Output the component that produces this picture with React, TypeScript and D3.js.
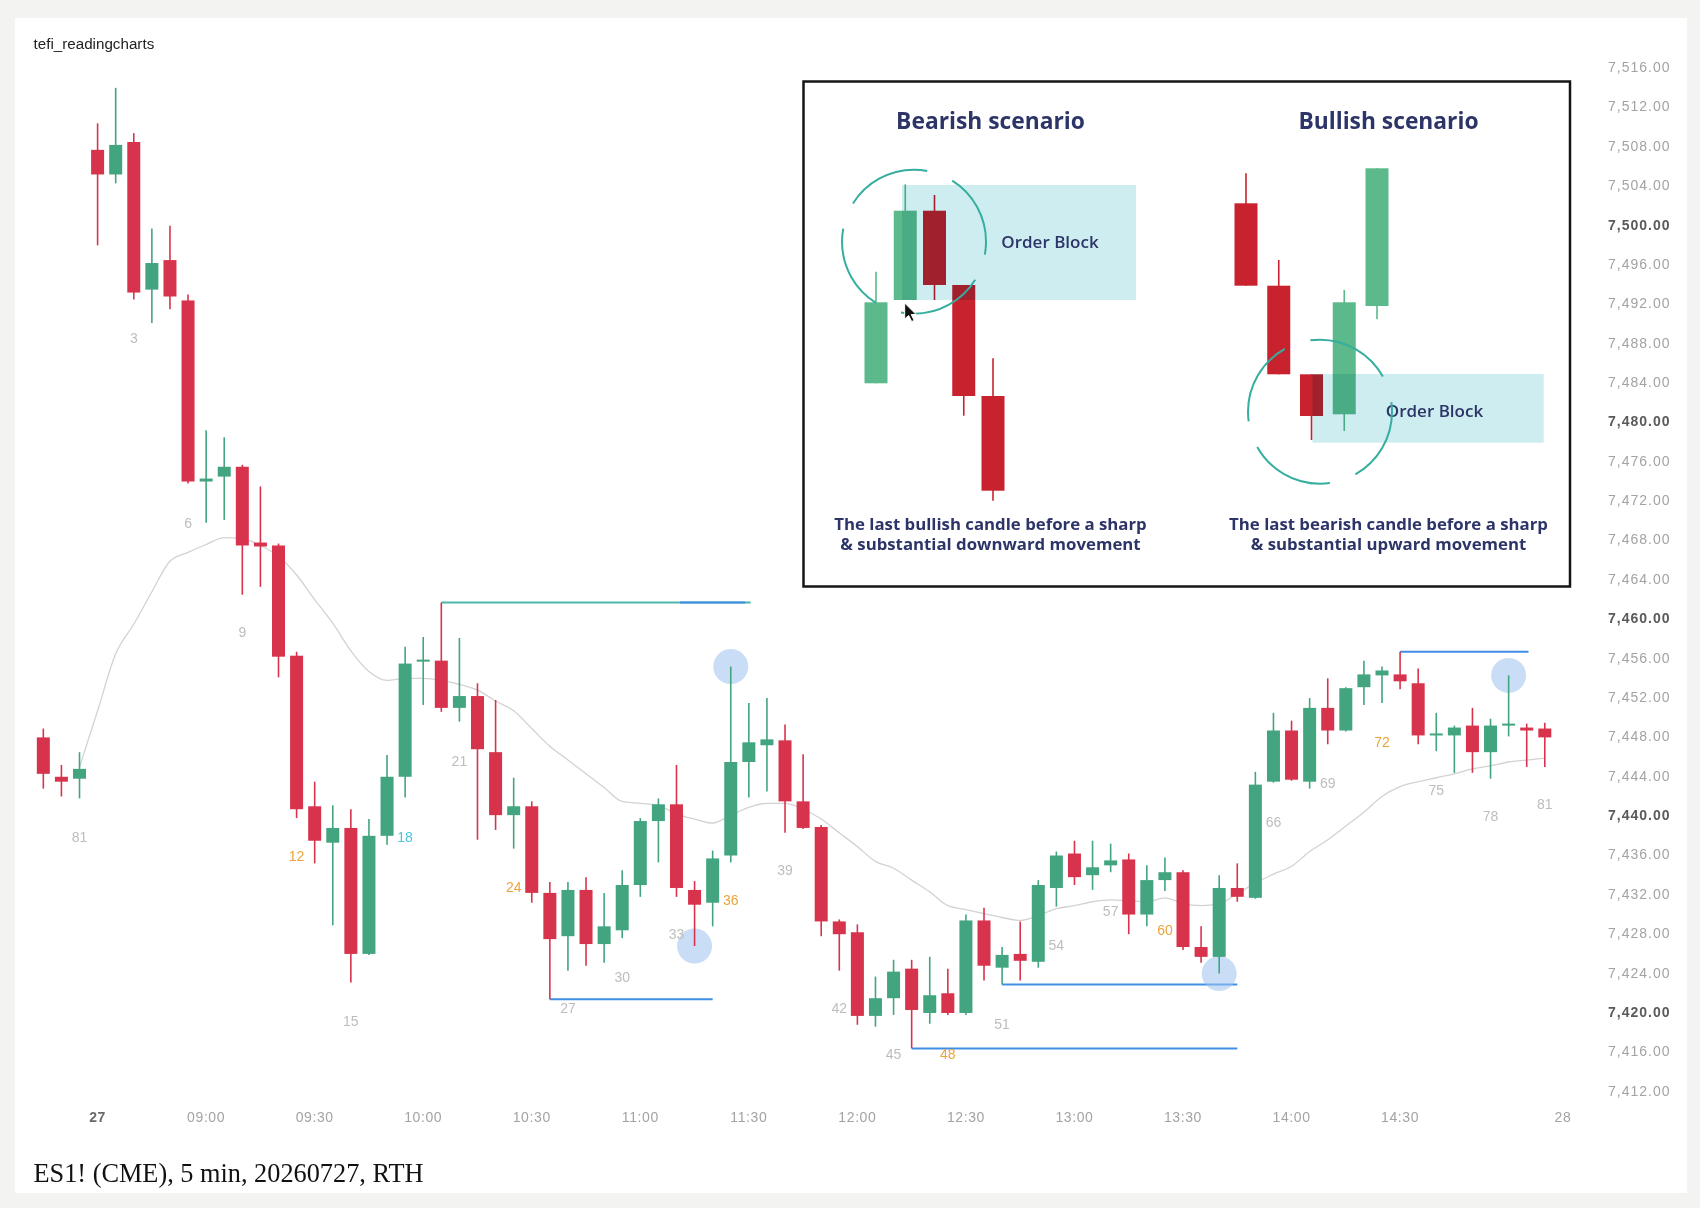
import React from 'react';
import * as d3 from 'd3';

// ---------- main chart data ----------
const FIRST_BAR = -2; // bars -2..0 belong to previous session (its bars 79..81)
const opens = [
  7447.9, 7443.9, 7443.7,
  7507.6, 7505.1, 7508.4, 7493.4, 7496.4, 7492.3, 7473.9, 7474.4, 7475.4, 7467.7,
  7467.4, 7456.2, 7440.9, 7437.2, 7438.7, 7425.9, 7437.9, 7443.9, 7455.6, 7455.7,
  7450.9, 7452.1, 7446.4, 7440.0, 7440.9, 7432.1, 7427.7, 7432.4, 7426.9, 7428.3,
  7432.9, 7439.4, 7441.1, 7432.4, 7431.1, 7435.9, 7445.4, 7447.1, 7447.6, 7441.4,
  7438.8, 7429.2, 7428.1, 7419.6, 7421.4, 7424.4, 7419.9, 7421.9, 7419.9, 7429.3,
  7424.5, 7425.9, 7425.1, 7432.6, 7436.1, 7433.9, 7434.9, 7435.5, 7429.9, 7433.4,
  7434.2, 7426.6, 7425.6, 7432.6, 7431.6, 7443.4, 7448.6, 7443.4, 7450.9, 7448.6,
  7453.0, 7454.2, 7454.3, 7453.4, 7448.1, 7448.1, 7449.1, 7446.4, 7449.1, 7448.9,
  7448.8,
];
const highs = [
  7448.8, 7445.1, 7446.4,
  7510.3, 7513.9, 7509.3, 7499.6, 7499.9, 7492.9, 7479.1, 7478.4, 7475.6, 7473.4,
  7467.6, 7456.6, 7443.4, 7441.0, 7440.6, 7439.6, 7446.1, 7457.1, 7458.1, 7461.6,
  7458.0, 7453.4, 7451.7, 7443.8, 7441.4, 7433.2, 7433.2, 7433.7, 7432.1, 7434.4,
  7439.7, 7441.7, 7445.1, 7433.3, 7436.4, 7455.1, 7451.4, 7451.9, 7449.2, 7446.2,
  7439.0, 7429.4, 7428.9, 7423.6, 7425.3, 7425.3, 7425.6, 7424.4, 7429.9, 7430.6,
  7426.6, 7429.2, 7433.4, 7436.3, 7437.4, 7437.4, 7437.1, 7436.1, 7434.9, 7435.7,
  7434.4, 7428.7, 7433.9, 7435.1, 7444.4, 7450.4, 7449.6, 7451.9, 7453.9, 7453.0,
  7455.7, 7455.1, 7456.6, 7454.9, 7450.4, 7449.1, 7450.9, 7449.8, 7454.2, 7449.3,
  7449.4,
];
const lows = [
  7442.7, 7441.9, 7441.7,
  7497.9, 7504.2, 7492.4, 7490.0, 7491.4, 7473.7, 7469.7, 7470.0, 7462.4, 7463.2,
  7454.0, 7439.7, 7435.1, 7428.8, 7423.0, 7425.8, 7437.0, 7441.8, 7451.2, 7450.5,
  7449.5, 7437.5, 7438.5, 7436.6, 7431.1, 7421.3, 7424.2, 7424.7, 7425.0, 7427.5,
  7431.7, 7435.2, 7431.7, 7426.7, 7428.7, 7435.2, 7441.8, 7442.4, 7438.2, 7438.6,
  7427.7, 7424.2, 7418.7, 7418.5, 7419.7, 7416.3, 7418.8, 7419.7, 7419.7, 7423.2,
  7422.8, 7423.2, 7424.5, 7430.7, 7432.9, 7432.4, 7434.2, 7427.9, 7428.7, 7432.3,
  7426.3, 7425.0, 7423.9, 7431.2, 7431.5, 7443.3, 7443.5, 7442.7, 7447.2, 7448.5,
  7451.2, 7451.4, 7452.8, 7447.2, 7446.5, 7444.3, 7444.3, 7443.7, 7448.0, 7444.9,
  7444.9,
];
const closes = [
  7444.2, 7443.4, 7444.7,
  7505.1, 7508.1, 7493.1, 7496.1, 7492.7, 7473.9, 7474.2, 7475.4, 7467.4, 7467.3,
  7456.1, 7440.6, 7437.4, 7438.7, 7425.9, 7437.9, 7443.9, 7455.4, 7455.8, 7450.9,
  7452.1, 7446.7, 7440.0, 7440.9, 7432.1, 7427.4, 7432.4, 7426.9, 7428.7, 7432.9,
  7439.4, 7441.1, 7432.6, 7430.9, 7435.6, 7445.4, 7447.4, 7447.7, 7441.4, 7438.7,
  7429.2, 7427.9, 7419.6, 7421.4, 7424.1, 7420.2, 7421.7, 7419.9, 7429.3, 7424.7,
  7425.8, 7425.2, 7432.9, 7435.9, 7433.7, 7434.7, 7435.4, 7429.9, 7433.4, 7434.2,
  7426.6, 7425.6, 7432.6, 7431.7, 7443.1, 7448.6, 7443.6, 7450.9, 7448.6, 7452.9,
  7454.3, 7454.7, 7453.6, 7448.1, 7448.3, 7448.9, 7446.4, 7449.1, 7449.3, 7448.6,
  7447.9,
];
// moving average line, bars 0..81
const EMA_FIRST_BAR = 0;
const emaValues = [
  7444.9, 7450.6, 7456.4, 7459.4, 7462.7, 7465.8, 7466.7, 7467.5, 7468.2, 7468.1,
  7467.4, 7466.3, 7464.4, 7461.9, 7459.5, 7456.7, 7454.6, 7453.7, 7453.9, 7453.9,
  7453.7, 7453.3, 7452.7, 7451.6, 7450.6, 7448.8, 7447.0, 7445.6, 7444.2, 7442.8,
  7441.4, 7441.2, 7441.0, 7440.1, 7439.6, 7439.2, 7440.0, 7440.8, 7441.2, 7441.2,
  7440.6, 7439.6, 7438.2, 7436.8, 7435.3, 7434.6, 7433.4, 7432.2, 7430.8, 7430.4,
  7430.0, 7429.6, 7429.3, 7429.8, 7430.5, 7430.8, 7431.2, 7431.4, 7431.3, 7431.2,
  7431.6, 7431.0, 7430.8, 7431.0, 7432.0, 7433.1, 7434.0, 7434.8, 7436.3, 7437.5,
  7438.9, 7440.3, 7441.9, 7442.9, 7443.4, 7443.8, 7444.2, 7444.7, 7445.0, 7445.4,
  7445.6, 7445.8,
];

const timeTickBars = [1, 7, 13, 19, 25, 31, 37, 43, 49, 55, 61, 67, 73, 82];
const timeTickLabels = ['27', '09:00', '09:30', '10:00', '10:30', '11:00', '11:30', '12:00', '12:30', '13:00', '13:30', '14:00', '14:30', '28'];
const timeTickBold = [true, false, false, false, false, false, false, false, false, false, false, false, false, false];

const priceTicks = [
  7412, 7416, 7420, 7424, 7428, 7432, 7436, 7440, 7444, 7448, 7452, 7456, 7460, 7464,
  7468, 7472, 7476, 7480, 7484, 7488, 7492, 7496, 7500, 7504, 7508, 7512, 7516,
];

const countLabelBars = [0, 3, 6, 9, 12, 15, 18, 21, 24, 27, 30, 33, 36, 39, 42, 45, 48, 51, 54, 57, 60, 66, 69, 72, 75, 78, 81];
const countLabelTexts = ['81', '3', '6', '9', '12', '15', '18', '21', '24', '27', '30', '33', '36', '39', '42', '45', '48', '51', '54', '57', '60', '66', '69', '72', '75', '78', '81'];
const countLabelPrices = [7437.8, 7488.5, 7469.7, 7458.6, 7435.8, 7419.1, 7437.8, 7445.5, 7432.7, 7420.4, 7423.5, 7427.9, 7431.4, 7434.4, 7420.4, 7415.7, 7415.7, 7418.8, 7426.8, 7430.3, 7428.3, 7439.3, 7443.3, 7447.4, 7442.5, 7439.9, 7441.1];
const countLabelKinds = ['gray', 'gray', 'gray', 'gray', 'orange', 'gray', 'cyan', 'gray', 'orange', 'gray', 'gray', 'gray', 'orange', 'gray', 'gray', 'gray', 'orange', 'gray', 'gray', 'gray', 'orange', 'gray', 'gray', 'orange', 'gray', 'gray', 'gray'];

const levelPrices = [7461.6, 7461.6, 7421.3, 7416.3, 7422.8, 7456.6];
const levelStartBars = [20, 33.2, 26, 46, 51, 73];
const levelEndBars = [37.1, 36.8, 35, 64, 64, 80.1];
const levelKinds = ['teal', 'blue', 'blue', 'blue', 'blue', 'blue'];

const circleBars = [36, 34, 63, 79];
const circlePrices = [7455.1, 7426.7, 7423.9, 7454.2];

// ---------- inset illustration data (local units) ----------
const bearOpens = [116.7, 200, 289.3, 215, 104];
const bearHighs = [228.3, 315.7, 305, 215, 141.7];
const bearLows = [116.7, 200, 200, 84.3, -0.7];
const bearCloses = [197.7, 289.3, 215, 104, 9.3];
const bullOpens = [296.7, 214.3, 125.7, 85.7, 194];
const bullHighs = [326.7, 240, 125.7, 210, 331.7];
const bullLows = [214.3, 125.7, 60, 69, 180.7];
const bullCloses = [214.3, 125.7, 84, 197.7, 331.7];

const COLORS = {
  up: '#42a57f',
  down: '#d8334c',
  ema: '#d2d2d2',
  teal: '#4db6ac',
  blue: '#3f8fe6',
  gray: '#bdbdbd',
  orange: '#eca33c',
  cyan: '#4cc5dc',
  navy: '#2c3468',
  insetUp: '#5bb98c',
  insetDown: '#c9222f',
  ob: '#cdedf0',
  ring: '#36ae9f',
};

const W = 1700;
const H = 1208;

function Candles({ o, h, l, c, xAt, y, width, up, down }: any) {
  return (
    <g>
      {o.map((_: number, i: number) => {
        const x = xAt(i);
        const isUp = c[i] >= o[i];
        const col = isUp ? up : down;
        const top = y(Math.max(o[i], c[i]));
        const bot = y(Math.min(o[i], c[i]));
        return (
          <g key={i}>
            <line x1={x} x2={x} y1={y(h[i])} y2={y(l[i])} stroke={col} strokeWidth={1.6} />
            <rect x={x - width / 2} y={top} width={width} height={Math.max(bot - top, 2)} fill={col} />
          </g>
        );
      })}
    </g>
  );
}

function Inset() {
  const box = { x: 803.5, y: 81.5, w: 766.5, h: 505 };
  const iy = d3.scaleLinear().domain([0, 340]).range([500, 160]);
  const bx = d3.scaleLinear().domain([0, 4]).range([876, 993]);
  const ux = d3.scaleLinear().domain([0, 4]).range([1246, 1377]);
  const font = '"Open Sans", "Noto Sans", sans-serif';
  const r = 72;
  return (
    <g>
      <rect x={box.x} y={box.y} width={box.w} height={box.h} fill="#ffffff" stroke="#151515" strokeWidth={2.5} />
      <text x={990.5} y={129} textAnchor="middle" fontFamily={font} fontWeight={700} fontSize={22.8} fill={COLORS.navy}>Bearish scenario</text>
      <text x={1388.5} y={129} textAnchor="middle" fontFamily={font} fontWeight={700} fontSize={22.8} fill={COLORS.navy}>Bullish scenario</text>

      {/* bearish */}
      <Candles o={bearOpens} h={bearHighs} l={bearLows} c={bearCloses} xAt={(i: number) => bx(i)} y={iy} width={23} up={COLORS.insetUp} down={COLORS.insetDown} />
      <rect x={bx(0.89)} y={iy(315)} width={bx(8.89) - bx(0.89)} height={iy(200) - iy(315)} fill={COLORS.ob} style={{ mixBlendMode: 'multiply' }} />
      <text x={1050} y={248} textAnchor="middle" fontFamily={font} fontWeight={600} fontSize={17} fill={COLORS.navy}>Order Block</text>
      <circle cx={bx(1.3)} cy={iy(258.3)} r={r} fill="none" stroke={COLORS.ring} strokeWidth={2} strokeDasharray="86 27" strokeDashoffset={-40} />
      <path d={`M0,0 L0,16 L4,12.5 L7,18.5 L9.5,17.5 L6.6,11.5 L11.5,11.5 Z`} transform={`translate(${bx(0.98)},${iy(197)})`} fill="#111" stroke="#fff" strokeWidth={1} />

      {/* bullish */}
      <Candles o={bullOpens} h={bullHighs} l={bullLows} c={bullCloses} xAt={(i: number) => ux(i)} y={iy} width={23} up={COLORS.insetUp} down={COLORS.insetDown} />
      <rect x={ux(2.03)} y={iy(126)} width={ux(9.09) - ux(2.03)} height={iy(57.3) - iy(126)} fill={COLORS.ob} style={{ mixBlendMode: 'multiply' }} />
      <text x={1434.5} y={417} textAnchor="middle" fontFamily={font} fontWeight={600} fontSize={17} fill={COLORS.navy}>Order Block</text>
      <circle cx={ux(2.26)} cy={iy(88.3)} r={r} fill="none" stroke={COLORS.ring} strokeWidth={2} strokeDasharray="86 27" strokeDashoffset={10} />

      <text x={990.5} y={530} textAnchor="middle" fontFamily={font} fontWeight={700} fontSize={16.8} fill={COLORS.navy}>The last bullish candle before a sharp</text>
      <text x={990.5} y={550} textAnchor="middle" fontFamily={font} fontWeight={700} fontSize={16.8} fill={COLORS.navy}>&amp; substantial downward movement</text>
      <text x={1388.5} y={530} textAnchor="middle" fontFamily={font} fontWeight={700} fontSize={16.8} fill={COLORS.navy}>The last bearish candle before a sharp</text>
      <text x={1388.5} y={550} textAnchor="middle" fontFamily={font} fontWeight={700} fontSize={16.8} fill={COLORS.navy}>&amp; substantial upward movement</text>
    </g>
  );
}

export default function App() {
  const x = d3.scaleLinear().domain([1, 82]).range([97.6, 1562.9]);
  const y = d3.scaleLinear().domain([7412, 7516]).range([1090.7, 67.2]);
  const sans = '"Liberation Sans", Arial, sans-serif';

  const emaLine = d3
    .line<number>()
    .x((_, i) => x(i + EMA_FIRST_BAR))
    .y((v) => y(v))
    .curve(d3.curveMonotoneX);

  const kindColor: Record<string, string> = { gray: COLORS.gray, orange: COLORS.orange, cyan: COLORS.cyan, teal: COLORS.teal, blue: COLORS.blue };

  return (
    <svg width={W} height={H} style={{ position: 'absolute', left: 0, top: 0, display: 'block' }} xmlns="http://www.w3.org/2000/svg">
      <rect x={0} y={0} width={W} height={H} fill="#f3f3f1" />
      <rect x={15} y={18} width={1672} height={1175} fill="#ffffff" />

      <text x={33.5} y={49} fontFamily={sans} fontSize={15.2} fill="#222">tefi_readingcharts</text>

      {/* moving average */}
      <path d={emaLine(emaValues) || ''} fill="none" stroke={COLORS.ema} strokeWidth={1.3} />

      {/* levels */}
      {levelPrices.map((p, i) => (
        <line key={i} x1={x(levelStartBars[i])} x2={x(levelEndBars[i])} y1={y(p)} y2={y(p)} stroke={kindColor[levelKinds[i]]} strokeWidth={2} />
      ))}

      {/* highlight circles */}
      {circleBars.map((b, i) => (
        <circle key={i} cx={x(b)} cy={y(circlePrices[i])} r={17.5} fill="#9cc3ee" fillOpacity={0.55} />
      ))}

      <Candles o={opens} h={highs} l={lows} c={closes} xAt={(i: number) => x(i + FIRST_BAR)} y={y} width={13} up={COLORS.up} down={COLORS.down} />

      {/* bar count labels */}
      {countLabelBars.map((b, i) => (
        <text key={i} x={x(b)} y={y(countLabelPrices[i])} dy="0.35em" textAnchor="middle" fontFamily={sans} fontSize={14} fill={kindColor[countLabelKinds[i]]}>
          {countLabelTexts[i]}
        </text>
      ))}

      <Inset />

      {/* price axis */}
      {priceTicks.map((p) => {
        const bold = p % 20 === 0;
        return (
          <text key={p} x={1608} y={y(p)} dy="0.35em" fontFamily={sans} fontSize={14} letterSpacing={1} fontWeight={bold ? 700 : 400} fill={bold ? '#5a5a5a' : '#a3a3a3'}>
            {d3.format(',.2f')(p)}
          </text>
        );
      })}

      {/* time axis */}
      {timeTickBars.map((b, i) => (
        <text key={i} x={x(b)} y={1117} dy="0.35em" textAnchor="middle" fontFamily={sans} fontSize={14} letterSpacing={0.6} fontWeight={timeTickBold[i] ? 700 : 400} fill={timeTickBold[i] ? '#6a6a6a' : '#a3a3a3'}>
          {timeTickLabels[i]}
        </text>
      ))}

      <text x={33.5} y={1182} fontFamily='"Liberation Serif", "Times New Roman", serif' fontSize={26.3} fill="#111">ES1! (CME), 5 min, 20260727, RTH</text>
    </svg>
  );
}
